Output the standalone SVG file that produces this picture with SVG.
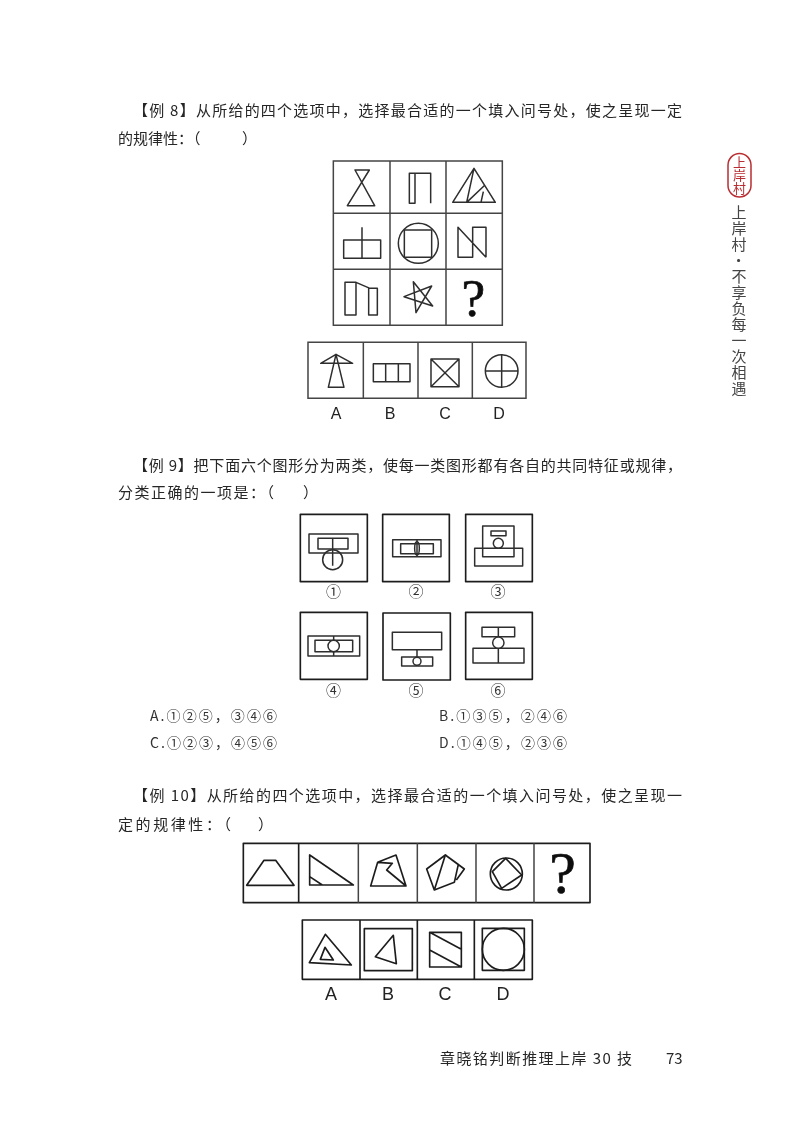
<svg xmlns="http://www.w3.org/2000/svg" width="800" height="1130" viewBox="0 0 800 1130">
<defs>
<style>
.t{font-family:"Noto Sans CJK SC","Noto Sans CJK JP",sans-serif;font-size:15px;fill:#262626}
.o{font-family:"Noto Sans CJK SC",sans-serif;font-size:14px;fill:#333}
.n{font-family:"Noto Sans CJK SC",sans-serif;font-size:15px;fill:#333;text-anchor:middle}
.s{font-family:"Noto Sans CJK SC",sans-serif;font-size:15px;letter-spacing:1px;fill:#444;writing-mode:vertical-rl}
.r{font-family:"Noto Sans CJK SC",sans-serif;font-size:13px;fill:#b92d30;writing-mode:vertical-rl}
.l{font-family:"Liberation Sans",Arial,sans-serif;fill:#222;text-anchor:middle}
.q{font-family:"Liberation Serif","Times New Roman",serif;fill:#111;stroke:#111;stroke-width:2;text-anchor:middle}
.f{fill:none;stroke:#2e2e2e;stroke-width:4.500;stroke-linejoin:round}
.b{fill:none;stroke:#444;stroke-width:4.500}
.k{fill:none;stroke:#1e1e1e;stroke-width:5;stroke-linejoin:round}
.c{fill:#fff;stroke:#2e2e2e;stroke-width:4.500}
</style>
<filter id="soft" x="-5%" y="-5%" width="110%" height="110%"><feGaussianBlur stdDeviation="0.35"/></filter>
</defs>
<rect width="800" height="1130" fill="#fff"/>

<g id="seal" filter="url(#soft)">
<rect x="728" y="153.500" width="23" height="43.500" rx="11.500" fill="#fff" stroke="#b92d30" stroke-width="1.500"/>
<text class="r" x="739.500" y="156">上岸村</text>
</g>
<g id="side-text" filter="url(#soft)">
<text class="s" x="739" y="205">上岸村·不享负每一次相遇</text>
</g>

<g id="text-ex8" filter="url(#soft)">
<text class="t" x="133" y="116" textLength="549">【例 8】从所给的四个选项中，选择最合适的一个填入问号处，使之呈现一定</text>
<text class="t" x="118" y="144">的规律性：（</text>
<text class="t" x="242" y="144">）</text>
</g>

<g id="ex8-grid" transform="translate(320,150) scale(0.33333)" filter="url(#soft)">
<path class="b" d="M40 33H547V526H40ZM210 33V526M378 33V526M40 190H547M40 358H547"/>
<path class="f" d="M105 60H148L82 167H164Z"/>
<path class="f" d="M332 160V70H268V160H285V70"/>
<path class="f" d="M398 157L462 55L526 157ZM462 55L440 157M495 105L440 157M490 125L483 157"/>
<path class="f" d="M71 270H182V325H71ZM126 232V325"/>
<circle class="f" cx="295" cy="280" r="60"/><path class="f" d="M253 240H335V322H253Z"/>
<path class="f" d="M498 322L414 232V322H458V232H498V322"/>
<path class="f" d="M75 397H108V495H75ZM146 415H172V495H146ZM108 397L150 415"/>
<path class="f" d="M280 395L338 468L252 440L335 408L288 488Z"/>
<text class="q" x="460" y="497" font-size="160">?</text>
</g>

<g id="ex8-options" transform="translate(300,335) scale(0.33333)" filter="url(#soft)">
<path class="b" d="M24 22H678V190H24ZM190 22V190M354 22V190M517 22V190"/>
<path class="f" d="M108 58L85 157H132ZM108 58L62 85H158Z"/>
<path class="f" d="M220 86H330V140H220ZM257 86V140M295 86V140"/>
<path class="f" d="M393 72H477V155H393ZM393 72L477 155M477 72L393 155"/>
<circle class="f" cx="605" cy="108" r="49"/><path class="f" d="M556 108H654M605 59V157"/>
</g>
<g id="ex8-labels" filter="url(#soft)">
<text class="l" font-size="16" x="336" y="419">A</text>
<text class="l" font-size="16" x="390" y="419">B</text>
<text class="l" font-size="16" x="445" y="419">C</text>
<text class="l" font-size="16" x="499" y="419">D</text>
</g>

<g id="text-ex9" filter="url(#soft)">
<text class="t" x="133" y="471" textLength="549">【例 9】把下面六个图形分为两类，使每一类图形都有各自的共同特征或规律，</text>
<text class="t" x="118" y="498" textLength="156">分类正确的一项是：（</text>
<text class="t" x="303" y="498">）</text>
</g>

<g id="ex9-row1" transform="translate(290,505) scale(0.33333)" filter="url(#soft)">
<path class="k" d="M31 28H232V230H31ZM278 28H478V230H278ZM527 28H727V230H527Z"/>
<path class="f" d="M57 87H204V144H57ZM84 100H174V132H84ZM128 100V182"/><circle class="f" cx="128" cy="164" r="30"/>
<path class="f" d="M308 104H453V155H308ZM332 116H430V146H332ZM381 104V155"/><ellipse class="f" cx="381" cy="130" rx="7" ry="20"/>
<path class="f" d="M578 63H672V155H578ZM603 78H648V92H603ZM554 130H698V183H554Z"/><circle class="f" cx="625" cy="115" r="15"/>
</g>
<g id="ex9-row2" transform="translate(290,605) scale(0.33333)" filter="url(#soft)">
<path class="k" d="M31 22H232V223H31ZM279 24H481V225H279ZM527 22H727V223H527Z"/>
<path class="f" d="M54 93H209V153H54ZM75 106H188V140H75ZM131 93V153"/><circle class="c" cx="131" cy="123" r="17"/>
<path class="f" d="M307 82H455V134H307ZM335 156H428V183H335ZM381 134V183"/><circle class="c" cx="381" cy="169" r="12"/>
<path class="f" d="M576 67H674V95H576ZM625 67V95M549 130H702V174H549ZM625 130V174"/><circle class="c" cx="625" cy="113" r="17"/>
</g>
<g id="ex9-labels" filter="url(#soft)">
<text class="n" x="333.500" y="597">①</text><text class="n" x="416" y="597">②</text><text class="n" x="498" y="597">③</text>
<text class="n" x="333.500" y="696">④</text><text class="n" x="416" y="696">⑤</text><text class="n" x="498" y="696">⑥</text>
</g>
<g id="ex9-choices" filter="url(#soft)">
<text class="o" x="150" y="721" textLength="127">A.①②⑤，③④⑥</text>
<text class="o" x="439" y="721" textLength="128">B.①③⑤，②④⑥</text>
<text class="o" x="150" y="748" textLength="127">C.①②③，④⑤⑥</text>
<text class="o" x="439" y="748" textLength="128">D.①④⑤，②③⑥</text>
</g>

<g id="text-ex10" filter="url(#soft)">
<text class="t" x="133" y="801" textLength="549">【例 10】从所给的四个选项中，选择最合适的一个填入问号处，使之呈现一</text>
<text class="t" x="118" y="830" textLength="113">定的规律性：（</text>
<text class="t" x="258" y="830">）</text>
</g>

<g id="ex10-series" transform="translate(235,835) scale(0.33333)" filter="url(#soft)">
<path class="k" d="M25 25H1065V203H25ZM191 25V203"/>
<path class="b" d="M370 25V203M547 25V203M723 25V203M897 25V203"/>
<path class="k" d="M35 151L87 76H122L177 151Z"/>
<path class="k" d="M224 60V150H355ZM224 125L262 150"/>
<path class="k" d="M407 153L428 82L483 60L513 153ZM428 82L472 85L455 105L513 153"/>
<path class="k" d="M575 102L631 60L670 88L658 142L598 165ZM631 60L598 165M631 60L688 102L664 135"/>
<circle class="k" cx="814" cy="117" r="48"/><path class="k" d="M812 70L860 120L800 160L772 110Z"/>
<text class="q" x="983" y="175" font-size="180">?</text>
</g>

<g id="ex10-options" transform="translate(295,910) scale(0.33333)" filter="url(#soft)">
<path class="k" d="M22 30H712V208H22Z"/><path class="k" d="M195 30V208M367 30V208M538 30V208"/>
<path class="k" d="M91 73L169 165L43 158ZM90 112L115 150L76 148Z"/>
<path class="k" d="M208 56H352V182H208ZM295 76L304 161L241 140Z"/>
<path class="k" d="M404 67H499V171H404ZM404 67L499 118M404 120L499 171"/>
<path class="k" d="M562 55H688V181H562Z"/><circle class="k" cx="625" cy="118" r="63"/>
</g>
<g id="ex10-labels" filter="url(#soft)">
<text class="l" font-size="18" x="331" y="1000">A</text>
<text class="l" font-size="18" x="388" y="1000">B</text>
<text class="l" font-size="18" x="445" y="1000">C</text>
<text class="l" font-size="18" x="503" y="1000">D</text>
</g>

<g id="footer" filter="url(#soft)">
<text class="t" x="440" y="1064" textLength="192">章晓铭判断推理上岸 30 技</text>
<text class="t" x="666" y="1064">73</text>
</g>
</svg>
